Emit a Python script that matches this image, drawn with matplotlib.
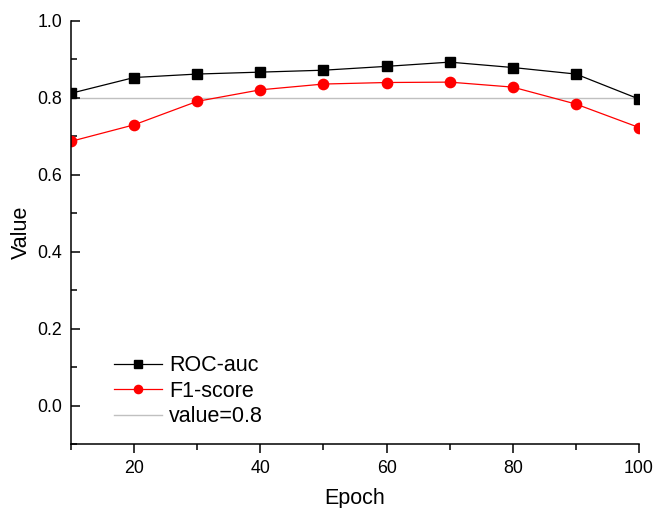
import numpy as np
import matplotlib
matplotlib.use('Agg')
import matplotlib.pyplot as plt
from matplotlib.ticker import MultipleLocator

plt.rcParams['font.family'] = ['Liberation Sans', 'DejaVu Sans']

# data
epoch = [10, 20, 30, 40, 50, 60, 70, 80, 90, 100]
roc_auc = [0.812, 0.853, 0.862, 0.867, 0.872, 0.882, 0.893, 0.879, 0.862, 0.797]
f1_score = [0.687, 0.730, 0.791, 0.821, 0.836, 0.840, 0.841, 0.828, 0.784, 0.723]
ref_value = 0.8

fig = plt.figure(figsize=(6.55, 5.08), dpi=100)
ax = fig.add_axes([0.1084, 0.126, 0.8672, 0.8327])

ax.plot(epoch, roc_auc, color='black', lw=0.9, marker='s', ms=6.8, label='ROC-auc')
ax.plot(epoch, f1_score, color='#ff0000', lw=0.9, marker='o', ms=7.4, label='F1-score')
ax.axhline(ref_value, color='#c0c0c0', lw=1.0, label='value=0.8', zorder=1)

ax.set_xlim(10, 100)
ax.set_ylim(-0.1, 1.0)
ax.xaxis.set_major_locator(MultipleLocator(20))
ax.xaxis.set_minor_locator(MultipleLocator(10))
ax.yaxis.set_major_locator(MultipleLocator(0.2))
ax.yaxis.set_minor_locator(MultipleLocator(0.1))
ax.yaxis.set_major_formatter(plt.FormatStrFormatter('%.1f'))

for s in ['top', 'right']:
    ax.spines[s].set_visible(False)
for s in ['left', 'bottom']:
    ax.spines[s].set_linewidth(1.1)

ax.tick_params(axis='x', which='major', direction='out', length=6.5, width=1.1, labelsize=12.8, pad=5)
ax.tick_params(axis='x', which='minor', direction='out', length=4, width=1.1)
ax.tick_params(axis='y', which='major', direction='in', length=6.5, width=1.1, labelsize=12.8, pad=6.5)
ax.tick_params(axis='y', which='minor', direction='in', length=4, width=1.1)

ax.set_xlabel('Epoch', fontsize=15.5, labelpad=8)
ax.set_ylabel('Value', fontsize=15.5, labelpad=4)

ax.legend(loc='lower left', bbox_to_anchor=(0.0757, 0.04), frameon=False, fontsize=15.5,
          handlelength=2.23, handletextpad=0.33, labelspacing=0.2, borderpad=0,
          borderaxespad=0, markerscale=0.8)

plt.savefig('out.png', dpi=100)
